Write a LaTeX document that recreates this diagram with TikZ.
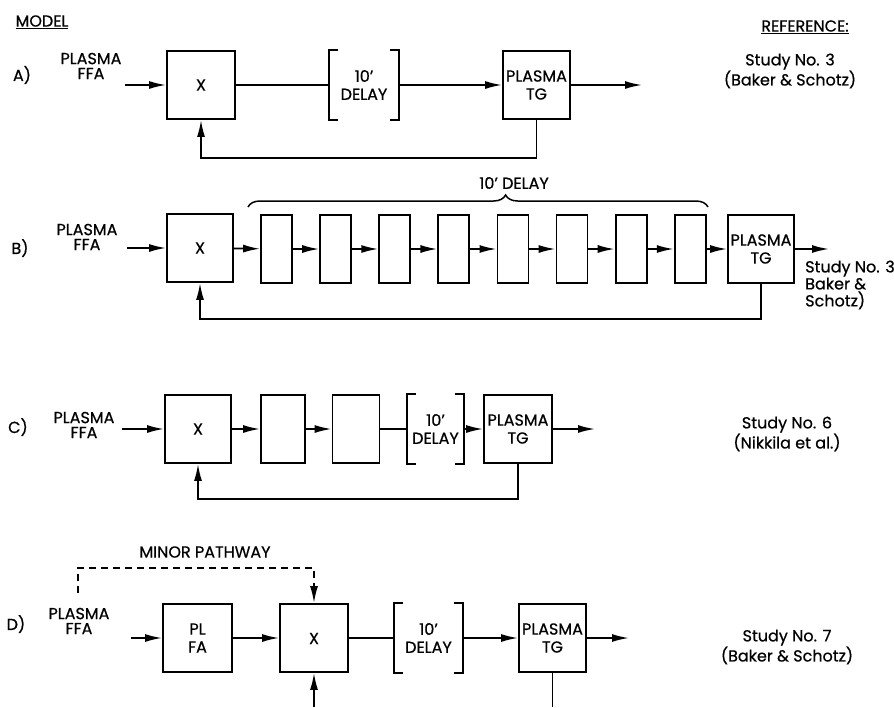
\documentclass[tikz,border=0pt]{standalone}
\usepackage{fontspec}
\setmainfont{Poppins}[FakeBold=0.6]
\usetikzlibrary{arrows.meta,decorations.pathreplacing}

% square brackets round a delay node
\newcommand{\delaybracket}[1]{%
  \draw ([xshift=9pt]#1.north west) -- (#1.north west) -- (#1.south west) -- ([xshift=9pt]#1.south west);
  \draw ([xshift=-9pt]#1.north east) -- (#1.north east) -- (#1.south east) -- ([xshift=-9pt]#1.south east);}

\begin{document}
\begin{tikzpicture}[x=1pt, y=-1pt, line width=1.8pt,
    font=\fontsize{16}{18}\selectfont,
    blk/.style={draw, inner sep=0pt, align=center, minimum width=#1, minimum height=68pt},
    blk/.default=68pt,
    dly/.style={inner sep=0pt, align=center, minimum width=#1, minimum height=68pt},
    dly/.default=68pt,
    lbl/.style={align=center, font=\fontsize{16}{15}\selectfont},
    ref/.style={align=center, font=\fontsize{16}{18}\selectfont},
    arr/.style={-{Latex[length=17pt,width=8pt]}}]
    \useasboundingbox (0, 0) rectangle (894, 707);

    % Headings
    \node (model) at (42, 22) [] {\underline{MODEL}};
    \node (refhd) at (805, 27) [] {\underline{REFERENCE:}};

    % Model A
    \node (lbA) at (22, 75) [] {A)};
    \node (ffaA) at (91, 66) [lbl] {PLASMA\\FFA};
    \coordinate (inA) at (125, 85);
    \node (xA) at (201, 85) [blk] {X};
    \node (dA) at (364, 85) [dly] {10'\\DELAY};
    \node (tgA) at (536.5, 85) [blk=67pt] {PLASMA\\TG};
    \coordinate (outA) at (642, 85);
    \node (stA) at (790, 71) [ref] {Study No. 3\\(Baker \& Schotz)};
    \delaybracket{dA}
    \draw[arr] (inA) -- (xA);
    \draw (xA) -- (dA);
    \draw[arr] (dA) -- (tgA);
    \draw[arr] (tgA) -- (outA);
    \draw[arr] (tgA.south) -- ++(0, 38) -| (xA.south);

    % Model B
    \node (lbB) at (20, 248) [] {B)};
    \node (ffaB) at (87, 237) [lbl] {PLASMA\\FFA};
    \coordinate (inB) at (127, 248);
    \node (xB) at (200, 248) [blk=66pt] {X};
    \foreach \i in {1,...,8}
    {
        \node (b\i) at (276.5+59.1*\i-59.1, 249) [blk=31pt] {};
    }
    \node (tgB) at (761, 249) [blk=66pt] {PLASMA\\TG};
    \coordinate (outB) at (829, 249);
    \node (stB) at (801, 285) [anchor=west, align=left, font=\fontsize{16}{17}\selectfont] {Study No. 3\\ Baker \&\\ Schotz)};
    \draw[arr] (inB) -- (xB);
    \draw[arr] (xB) -- (b1);
    \foreach \i [evaluate=\i as \j using int(\i+1)] in {1,...,7}
    {
        \draw[arr] (b\i) -- (b\j);
    }
    \draw[arr] (b8) -- (tgB);
    \draw[arr] (tgB) -- (outB);
    \draw[arr] (tgB.south) -- ++(0, 35) -| (xB.south);
    % brace over the delay boxes
    \coordinate (brL) at (248, 207);
    \coordinate (brR) at (708, 207);
    \draw[line width=1.5pt, decorate, decoration={brace, amplitude=12pt, aspect=0.56}] (brL) -- (brR);
    \node (brtxt) at (514, 183) [] {10' DELAY};

    % Model C
    \node (lbC) at (18, 427) [] {C)};
    \node (ffaC) at (84, 425) [lbl] {PLASMA\\FFA};
    \coordinate (inC) at (122, 429);
    \node (xC) at (198, 429) [blk=66pt] {X};
    \node (c2) at (283, 429) [blk=44pt] {};
    \node (c3) at (356, 429) [blk=47pt] {};
    \node (dC) at (435.5, 429) [dly=55pt] {10'\\DELAY};
    \node (tgC) at (518, 429) [blk=68pt] {PLASMA\\TG};
    \coordinate (outC) at (595, 429);
    \node (stC) at (787, 434) [ref] {Study No. 6\\(Nikkila et al.)};
    \delaybracket{dC}
    \draw[arr] (inC) -- (xC);
    \draw[arr] (xC) -- (c2);
    \draw[arr] (c2) -- (c3);
    \draw (c3) -- (dC);
    \draw[arr] (dC) -- (tgC);
    \draw[arr] (tgC) -- (outC);
    \draw[arr] (tgC.south) -- ++(0, 35) -| (xC.south);

    % Model D
    \node (lbD) at (16, 624) [] {D)};
    \node (ffaD) at (79, 621) [lbl] {PLASMA\\FFA};
    \node (mp) at (205, 552) [] {MINOR PATHWAY};
    \coordinate (mpS) at (78, 593);
    \coordinate (mpC) at (78, 568);
    \coordinate (inD) at (131, 638);
    \node (pl) at (197.5, 638) [blk=69pt] {PL\\FA};
    \node (xD) at (314, 638) [blk] {\raisebox{-12pt}{X}};
    \node (dD) at (428.5, 638) [dly=67pt] {10'\\DELAY};
    \node (tgD) at (552.5, 638) [blk=67pt] {PLASMA\\TG};
    \coordinate (outD) at (629, 638);
    \coordinate (fbX) at (314, 707);
    \coordinate (fbT) at (552.5, 707);
    \node (stD) at (787, 647) [ref] {Study No. 7\\(Baker \& Schotz)};
    \delaybracket{dD}
    \draw[dash pattern=on 7pt off 5pt, arr] (mpS) -- (mpC) -| (xD.north);
    \draw[arr] (inD) -- (pl);
    \draw[arr] (pl) -- (xD);
    \draw (xD) -- (dD);
    \draw[arr] (dD) -- (tgD);
    \draw[arr] (tgD) -- (outD);
    \draw[arr] (fbX) -- (xD.south);
    \draw (tgD.south) -- (fbT);
\end{tikzpicture}
\end{document}
